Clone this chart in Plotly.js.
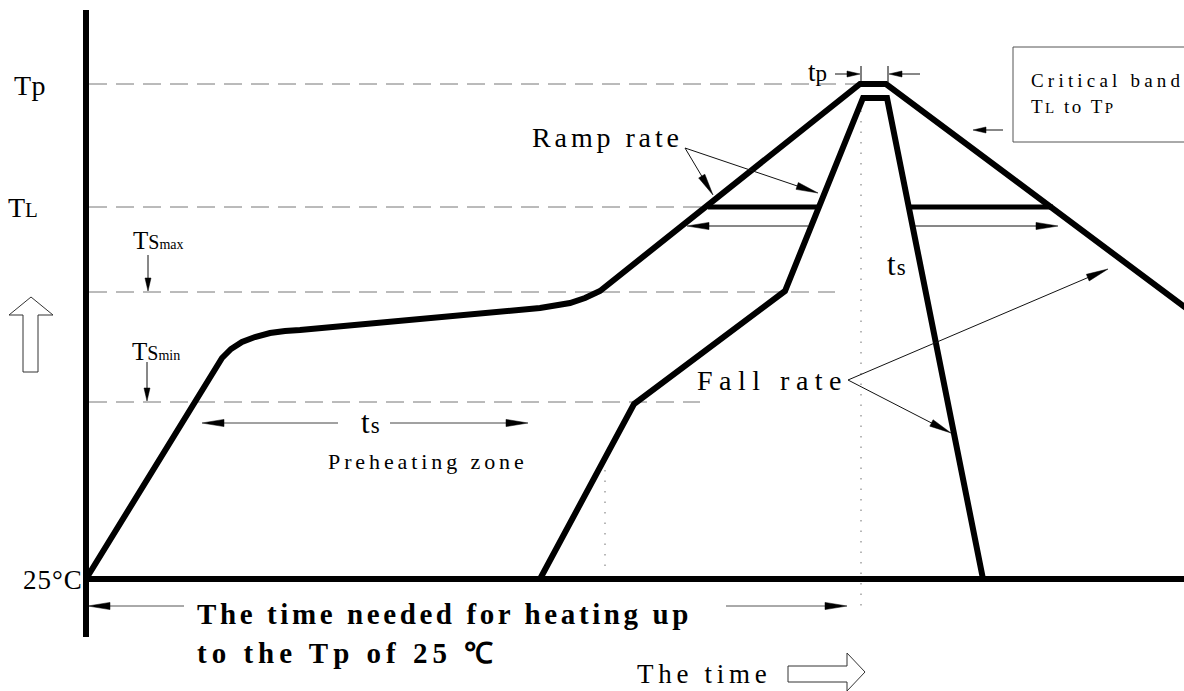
<!DOCTYPE html>
<html><head><meta charset="utf-8">
<script src="https://cdn.plot.ly/plotly-3.0.1.min.js"></script>
<style>html,body{margin:0;padding:0;background:#fff}#chart{width:1184px;height:691px}</style>
</head><body><div id="chart"></div>
<script>
// Schematic frame: time along x, temperature level along y (screen-down units)
const profileA_time = [86,222,231,242,255,270,285,300,540,555,570,585,600,860,886,1190];
const profileA_temp = [579,358,349,342,337,333,331,330,308,306,303,298,291,84,84,311];
const profileB_time = [540,634,785,863,887,983];
const profileB_temp = [579,404,291,98,98,579];

const levelNames = ['Tp','TL','TSmax','TSmin'];
const levelTemp = [84,207,292,402];
const levelGuideEnd = [858,708,835,700];
const baseTemp = 579;           // 25°C level
const timeAxis = [86,1184];
const tempAxis = [10,637];
const liquidusBarStart = [708,910];
const liquidusBarEnd = [818,1053];
const liquidusTemp = 207;
const guideTime = [861,605];
const guideTop = [100,470];
const guideBottom = [614,568];
const tpTickTime = [861,888];
const tpTickRange = [66,82];

// arrows: tail -> tip
const bigArrowTailX = [808,915,338,390,685,685,848,848,184,726];
const bigArrowTailY = [226,226,423,423,148,148,380,380,606,606];
const bigArrowTipX  = [687,1058,202,528,713,818,1108,951,88,847];
const bigArrowTipY  = [226,226,423,423,195,193,269,433,606,606];
const bigArrowColor = ['#111','#111','#444','#444','#111','#111','#111','#111','#555','#555'];
const smallArrowTailX = [835,920,1003,148,147];
const smallArrowTailY = [74,74,130,255,362];
const smallArrowTipX  = [860,889,973,148,147];
const smallArrowTipY  = [74,74,130,291,401];

// hollow direction arrows
const upArrowX = [23,23,9,31,53,38,38,23];
const upArrowY = [372,315,315,297,315,315,372,372];
const timeArrowX = [788,847,847,865,847,847,788,788];
const timeArrowY = [666,666,653,672,691,682,682,666];

const bandBox = {x0:1013,x1:1200,y0:47,y1:142};

const SERIF = '"Liberation Serif", "Times New Roman", serif';

const traces = [];
function line(xs, ys, color, width, dash){
  traces.push({type:'scatter',mode:'lines',x:xs,y:ys,hoverinfo:'skip',
    line:{color:color,width:width,dash:dash||'solid'}});
}
// axes
line([timeAxis[0],timeAxis[0]],[tempAxis[0],tempAxis[1]],'#000',6);
line([timeAxis[0],timeAxis[1]],[baseTemp,baseTemp],'#000',6);
// dashed level guides
levelTemp.forEach((t,i)=>line([timeAxis[0]+3,levelGuideEnd[i]],[t,t],'#777',1,'18px,9px'));
// dotted guides
guideTime.forEach((g,i)=>line([g,g],[guideTop[i],guideBottom[i]],'#888',1.2,'1.5px,9px'));
// profiles
line(profileA_time,profileA_temp,'#000',6);
line(profileB_time,profileB_temp,'#000',6);
liquidusBarStart.forEach((s,i)=>line([s,liquidusBarEnd[i]],[liquidusTemp,liquidusTemp],'#000',5));
// tp ticks
tpTickTime.forEach(t=>line([t,t],tpTickRange,'#000',1));

function arrow(x0,y0,x1,y1,L,W,color){
  const dx=x1-x0, dy=y1-y0, d=Math.hypot(dx,dy), ux=dx/d, uy=dy/d, nx=-uy, ny=ux;
  const bx=x1-L*ux, by=y1-L*uy;
  line([x0,bx+ux*2],[y0,by+uy*2],color,1);
  traces.push({type:'scatter',mode:'lines',fill:'toself',fillcolor:'#000',hoverinfo:'skip',
    x:[x1,bx+W*nx,bx-W*nx,x1],y:[y1,by+W*ny,by-W*ny,y1],line:{color:'#000',width:0.5}});
}
bigArrowTailX.forEach((_,i)=>arrow(bigArrowTailX[i],bigArrowTailY[i],bigArrowTipX[i],bigArrowTipY[i],22,3.6,bigArrowColor[i]));
smallArrowTailX.forEach((_,i)=>arrow(smallArrowTailX[i],smallArrowTailY[i],smallArrowTipX[i],smallArrowTipY[i],13,3,'#111'));

traces.push({type:'scatter',mode:'lines',fill:'toself',fillcolor:'#fff',x:upArrowX,y:upArrowY,hoverinfo:'skip',line:{color:'#333',width:1}});
traces.push({type:'scatter',mode:'lines',fill:'toself',fillcolor:'#fff',x:timeArrowX,y:timeArrowY,hoverinfo:'skip',line:{color:'#333',width:1}});

const labelText = ['Tp','TL','TSmax','TSmin','25°C','Ramp rate','Fall rate','ts','Preheating zone','ts','tp',
  'Critical band','TL to TP','The time needed for heating up','to the Tp of 25 ℃','The time'];
const sp = (ls, inner) => '<span style="letter-spacing:'+ls+'px">'+inner+'</span>';
const fs = (s, t) => '<span style="font-size:'+s+'px">'+t+'</span>';
const labelHtml = [
  sp(0.5,'Tp'),
  sp(0,'T'+fs(21,'L')),
  sp(0,'T'+fs(20,'S')+fs(14,'max')),
  sp(0,'T'+fs(20,'S')+fs(14,'min')),
  sp(1,'25°C'),
  sp(3.9,'Ramp rate'),
  sp(6.5,'Fall rate'),
  sp(1,'t'+fs(23,'s')),
  sp(3.9,'Preheating zone'),
  sp(1,'t'+fs(23,'s')),
  sp(0,'t'+fs(23,'p')),
  sp(4.2,'Critical band'),
  sp(2.5,'T'+fs(15,'L')+' to T'+fs(15,'P')),
  sp(3.6,'<b>The time needed for heating up</b>'),
  sp(5,'<b>to the Tp of 25 ℃</b>'),
  sp(4.7,'The time')
];
const labelX = [30,23,158,156,53,607,772,371,428,897,817,1029,1029,195,195,704];
const labelY = [85,207,240,351,580,137,380,422,461,264,72,80,106,614,653,674];
const labelSize = [28,28,25,25,27,28,28,31,22,31,27,19,19,29,29,27];
const labelAnchor = ['center','center','center','center','center','center','center','center','center','center','center','left','left','left','left','center'];

const annotations = labelText.map((t,i)=>({
  x:labelX[i],y:labelY[i],xref:'x',yref:'y',text:labelHtml[i],showarrow:false,
  xanchor:labelAnchor[i],yanchor:'middle',
  font:{family:SERIF,size:labelSize[i],color:'#000'}
}));

const layout = {
  width:1184,height:691,margin:{l:0,r:0,t:0,b:0},
  paper_bgcolor:'#fff',plot_bgcolor:'#fff',showlegend:false,
  xaxis:{range:[0,1184],visible:false,fixedrange:true},
  yaxis:{range:[691,0],visible:false,fixedrange:true},
  shapes:[{type:'rect',xref:'x',yref:'y',x0:bandBox.x0,x1:bandBox.x1,y0:bandBox.y0,y1:bandBox.y1,
    line:{color:'#555',width:1},fillcolor:'rgba(0,0,0,0)'}],
  annotations:annotations
};
Plotly.newPlot('chart',traces,layout,{staticPlot:true,displayModeBar:false});
</script></body></html>
